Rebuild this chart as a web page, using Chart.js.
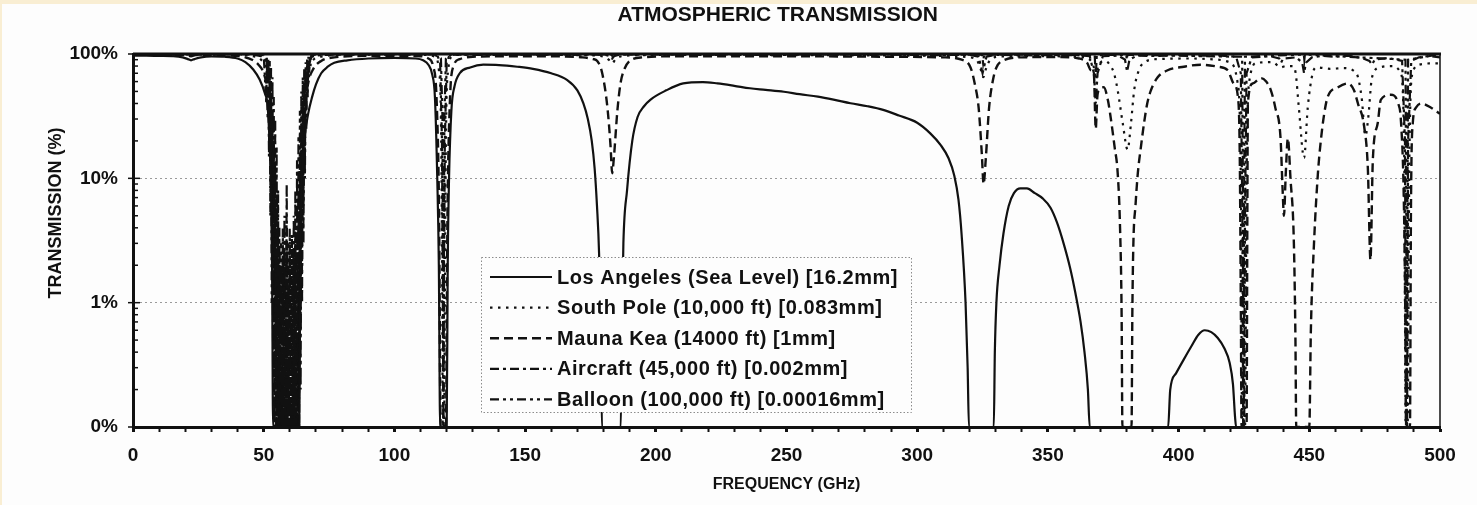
<!DOCTYPE html>
<html>
<head>
<meta charset="utf-8">
<title>Atmospheric Transmission</title>
<script src="https://cdn.jsdelivr.net/npm/chart.js@4.4.0/dist/chart.umd.min.js"></script>
<style>
  html, body { margin: 0; padding: 0; background: #f9eed3; }
  #wrap { position: absolute; left: 2px; top: 4px; width: 1475px; height: 501px; background: #fdfdfd; }
</style>
</head>
<body>
<div id="wrap"><canvas id="chart"></canvas></div>
<script>
// transmission curves, [frequency GHz, transmission %]; 0.1 is the floor of the plot
var losAngeles = [[0,97],[5,97],[10,96.5],[15,96],[19,94],[21,91],[22.2,89],[23.5,91],[26,94],[30,95.5],[35,95],[40,92],[43,86],[46,75],[48.5,62],[50.5,48],[51.5,38],[52.3,18],[52.8,8],[53.2,2],[53.6,0.1],[63.6,0.1],[64,2],[64.6,10],[65.5,20],[67,33],[68.5,45],[70,57],[72,70],[74.5,79],[77,85],[82,89],[90,92],[100,93],[108,92],[111,89],[113,82],[114.5,68],[115.5,45],[116.4,10],[117,2],[117.5,0.1],[120,0.1],[120.4,2],[120.9,10],[121.8,35],[123,55],[125,70],[129,78],[134,82],[140,81.5],[147,79],[153,76],[160,70],[166,62],[170,51],[172.3,40],[174,30],[175.5,20],[176.6,12],[177.5,6],[178.3,2.5],[179,0.5],[179.4,0.1],[186.6,0.1],[187,0.6],[187.6,3],[189,8],[191,20],[193,31],[195.5,38],[198,43],[204,51],[210.5,58],[218,59.5],[223.6,58],[230,55.5],[236,53],[242,51.5],[249,49.7],[255,47.5],[262,45.4],[268,43],[274.5,40.2],[281,38],[287,35.5],[293,32],[300,28],[305,23],[309,18.5],[312,14.5],[314.2,10.5],[315.8,6.7],[317,3.5],[318.5,1],[319.3,0.3],[319.8,0.1],[329.3,0.1],[329.7,0.4],[330.3,1],[331.5,2],[333,3.6],[335,6],[337,7.6],[339.5,8.3],[342,8.3],[345,7.6],[348,6.9],[351,5.8],[353.5,4.4],[356,3],[358.5,1.9],[360.5,1.2],[362.5,0.7],[364,0.4],[365.3,0.2],[366,0.1],[396,0.1],[396.8,0.2],[399,0.27],[402,0.35],[405,0.45],[407.5,0.55],[410,0.6],[412.5,0.58],[415,0.52],[417.5,0.43],[419.5,0.33],[420.8,0.22],[421.6,0.12],[422,0.1],[500,0.1]];

var southPole = [[0,99.5],[10,99.5],[20,99.3],[22.2,98.5],[24,99.3],[35,99.2],[42,98.5],[46,96],[49,90],[51,75],[52.5,45],[53.6,12],[54.4,2],[55,0.1],[62.8,0.1],[63.3,2],[64.2,15],[65.3,45],[66.8,75],[69,90],[73,96],[80,98.5],[100,99],[112,98.5],[115.5,95],[117,75],[117.9,20],[118.3,1],[118.5,0.1],[119,0.1],[119.3,1],[119.7,20],[120.6,75],[122,95],[125,98.5],[140,98.7],[160,98.3],[175,97.5],[180,95],[182,90],[183.3,84],[184.5,90],[187,96],[195,98],[220,98.5],[250,98],[280,97.5],[310,96.5],[320,94],[323,88],[324.6,72],[325.3,65],[326.2,75],[328,90],[332,95.5],[350,96],[362,95],[366,90],[367.8,75],[368.4,62],[369.2,80],[372,88],[374,80],[375.3,70],[376.7,51],[378.6,28],[380.5,17],[381.8,28],[383,51],[384.8,74],[387,86],[392,91],[405,92],[415,90],[420,85],[422.5,60],[423.8,10],[424.3,0.1],[425.4,0.1],[426,10],[427.3,65],[430,85],[436,86],[439,78],[441,80],[443.5,80],[444.8,70],[446,37],[448,14.6],[449.4,37],[451.3,70],[453,78],[458,76],[463,77],[468,70],[470,45],[471.5,22],[472.5,30],[474,65],[477,78],[482,80],[485,70],[486.3,15],[486.9,0.1],[487.6,0.1],[488.3,15],[489.5,70],[492,82],[496,84],[500,84]];

var maunaKea = [[0,98.5],[15,98.5],[20,98],[22.2,96],[24,98],[35,97.5],[40,96.5],[43,94],[45.5,90],[48,82],[50,70],[51.5,50],[52.4,28],[53.1,10],[53.7,2],[54.2,0.1],[63.3,0.1],[63.8,2],[64.5,12],[65.5,33],[67,58],[69,76],[72,88],[77,94],[90,96.5],[110,96],[113,92],[114.8,80],[116.2,40],[117.1,5],[117.7,0.1],[119.7,0.1],[120.3,5],[121.2,40],[122.6,80],[125,91],[130,95],[150,96],[165,95.5],[172,94],[176,91],[177.6,88],[179.5,70],[181.5,37],[182.7,18],[183.3,11],[184,15],[185.3,35],[186.5,58],[187.6,72],[190,88],[195,94],[210,96],[250,96],[290,95],[310,94],[317,90],[320.4,78],[322,58],[323.5,37],[324.7,16],[325.4,9],[326.2,14],[327.5,37],[329,62],[330.3,78],[333,89],[340,94],[355,94.5],[362,92],[365,85],[366.4,74],[367.6,68],[368.3,25],[368.9,45],[369.5,51],[371.4,54],[373,42],[374,31],[375.5,18],[376.7,11],[377.6,4],[378.2,0.8],[378.5,0.1],[382,0.1],[382.3,0.8],[382.7,3],[383.5,6],[384.4,11],[385.6,18],[386.8,28],[388,40],[389.4,51],[392,65],[395.8,74],[402,79],[408.5,82],[415,79],[418.8,74],[421,58],[422.7,45],[423.4,15],[423.8,1],[424.1,0.1],[426,0.1],[426.3,5],[426.5,40],[428.4,58],[431.5,64],[433.5,60],[435.3,51],[437,37],[439,21],[439.8,8],[440.3,5],[441,11],[441.8,21],[442.8,10],[444.1,3],[444.7,0.5],[445,0.1],[450,0.1],[450.6,0.6],[451.8,3],[453.3,11],[454.4,20],[455.7,33],[457,45],[461,54],[464.8,58],[467.1,51],[468.6,40],[471,26],[472.4,12],[473.4,2.2],[474.3,14],[476.2,28],[477.4,43],[481.2,47],[484,40],[485.1,28],[486.2,6],[486.8,0.5],[487,0.1],[488.5,0.1],[488.9,6],[489.6,28],[490.8,37],[492.7,40],[496.6,37],[500,33]];

var aircraft = [[0,99.8],[10,98.8],[22,99.4],[30,98.6],[40,99.7],[45,99],[47,98],[49,96],[50.5,92],[51.2,85],[51.5,60],[51.8,85],[52.3,70],[52.55,25],[52.8,60],[53.1,8],[53.35,35],[53.6,2],[53.85,20],[54.15,0.5],[54.4,12],[54.7,0.2],[54.95,7],[55.2,0.1],[55.5,4],[55.8,0.1],[56.05,2.5],[56.3,0.1],[56.65,2],[56.97,0.1],[57.3,2.2],[57.6,0.1],[57.95,2.5],[58.35,0.1],[58.8,3],[59.2,0.1],[59.4,1.5],[59.6,0.1],[59.95,2.5],[60.35,0.1],[60.8,2.2],[61.15,0.1],[61.5,2.5],[61.8,0.1],[62.1,3],[62.45,0.1],[62.75,4],[63,0.1],[63.3,8],[63.57,0.2],[63.85,15],[64.13,0.6],[64.4,25],[64.68,2],[64.95,40],[65.22,6],[65.5,55],[65.77,15],[66.05,70],[66.3,35],[66.6,80],[66.84,55],[67.1,88],[67.4,72],[67.7,92],[68.5,95],[70,97.5],[75,98.5],[90,99.5],[112,99.5],[115,99],[116.5,97],[117.5,85],[118.2,20],[118.5,2],[118.75,0.1],[119,2],[119.3,20],[120,85],[121,97],[123,99],[135,98.2],[150,99.5],[165,98.4],[180,99],[182.5,96],[183.3,92],[184,96],[186,99],[200,99.6],[215,98.3],[230,99.2],[245,98.1],[260,99.5],[275,98.2],[290,99],[305,97.8],[320,98.5],[323.5,95],[325,70],[326.5,95],[330,98.5],[345,97.6],[360,98],[366,96],[367.6,70],[368.3,40],[369,70],[371,96],[377,97],[379.5,90],[380.3,72],[381.2,90],[384,97],[392,96.5],[400,98],[407,96.8],[415,97.5],[422,95],[423.8,70],[424.4,5],[424.7,0.1],[425.1,0.1],[425.4,5],[426,70],[428,94],[435,96],[438.5,92],[439.2,85],[440,92],[445,94],[447.3,85],[448,70],[448.7,85],[451,94],[455,96.5],[460,95],[465,96.8],[470,93],[473,88],[474,82],[475,90],[480,93],[485.5,88],[486.6,20],[487,0.1],[487.4,0.1],[487.8,20],[489,88],[492,94],[496,96.5],[500,94]];

var balloon = [[0,100],[22.2,99.8],[45,99.5],[48,99],[50,98],[50.99,40],[51.2,95],[51.5,30],[51.75,93],[52.02,15],[52.3,88],[52.54,5],[52.8,80],[53.07,1],[53.35,65],[53.6,0.3],[53.85,45],[54.13,0.1],[54.4,30],[54.67,0.1],[54.95,18],[55.22,0.1],[55.5,8],[55.78,0.1],[56,4],[56.3,0.1],[56.65,3],[56.97,0.1],[57.3,4],[57.61,0.1],[57.95,5],[58.38,0.1],[58.8,9],[59.16,0.1],[59.38,3],[59.59,0.1],[59.95,4],[60.37,0.1],[60.8,3.5],[61.15,0.1],[61.5,5],[61.8,0.1],[62.1,8],[62.45,0.1],[62.75,14],[62.99,0.1],[63.3,22],[63.57,0.1],[63.85,35],[64.13,0.2],[64.4,50],[64.68,1],[64.95,65],[65.22,3],[65.5,78],[65.77,10],[66.05,86],[66.3,25],[66.6,92],[66.84,45],[67.1,95],[67.37,65],[67.65,97],[67.9,80],[68.2,98],[70,99],[80,99.7],[115,99.8],[117.8,92],[118.4,30],[118.7,0.1],[118.8,0.1],[119.1,30],[119.7,92],[122,99.8],[182.8,99.3],[183.3,97],[183.8,99.3],[324.8,99],[325.2,85],[325.6,99],[367.9,98],[368.3,65],[368.7,98],[380,98.5],[380.2,90],[380.4,98.5],[424.3,95],[424.6,10],[424.75,0.1],[424.95,0.1],[425.1,10],[425.4,95],[447.9,99],[448.1,90],[448.3,99],[486.8,90],[487.1,5],[487.25,0.1],[487.35,0.1],[487.5,5],[487.8,90],[500,99.5]];

var seriesNames = [
  'Los Angeles (Sea Level) [16.2mm]',
  'South Pole (10,000 ft) [0.083mm]',
  'Mauna Kea (14000 ft) [1mm]',
  'Aircraft (45,000 ft) [0.002mm]',
  'Balloon (100,000 ft) [0.00016mm]'
];
var yTickValues = [0.1, 1, 10, 100];
var yTickLabels = ['0%', '1%', '10%', '100%'];
var xLabelStep = 50;

function toPoints(list) {
  return list.map(function (p) { return { x: p[0], y: p[1] }; });
}

// log ticks: labelled decades plus the unlabelled 2..9 marks in between
function buildYTicks() {
  var out = [];
  for (var d = 0; d < yTickValues.length - 1; d++) {
    for (var k = 1; k < 10; k++) {
      var v = parseFloat((yTickValues[d] * k).toPrecision(3));
      out.push({ value: v, major: k === 1 });
    }
  }
  out.push({ value: yTickValues[yTickValues.length - 1], major: true });
  return out;
}

function yLabel(v) {
  for (var i = 0; i < yTickValues.length; i++) {
    if (Math.abs(v - yTickValues[i]) < 1e-9) return yTickLabels[i];
  }
  return '';
}

// top/right frame lines and the small inward ticks on the left axis
var plotFrame = {
  id: 'plotFrame',
  afterDatasetsDraw: function (chart) {
    var ctx = chart.ctx, a = chart.chartArea, ys = chart.scales.y;
    ctx.save();
    ctx.strokeStyle = '#111';
    ctx.lineWidth = 3;
    ctx.beginPath();
    ctx.moveTo(a.left, a.top);
    ctx.lineTo(a.right + 1, a.top);
    ctx.stroke();
    ctx.lineWidth = 1.5;
    ctx.beginPath();
    ctx.moveTo(a.right, a.top);
    ctx.lineTo(a.right, a.bottom);
    ctx.stroke();
    ys.ticks.forEach(function (t) {
      var py = ys.getPixelForValue(t.value);
      ctx.beginPath();
      ctx.moveTo(t.major ? a.left - 5 : a.left, py);
      ctx.lineTo(a.left + (t.major ? 7 : 5), py);
      ctx.stroke();
    });
    ctx.restore();
  }
};

// boxed legend sitting inside the plot
var boxLegend = {
  id: 'boxLegend',
  afterDatasetsDraw: function (chart, args, opts) {
    var ctx = chart.ctx, a = chart.chartArea;
    var x0 = Math.round(a.left + opts.left), y0 = Math.round(a.top + opts.top);
    ctx.save();
    ctx.fillStyle = '#fdfdfd';
    ctx.fillRect(x0, y0, opts.width, opts.height);
    ctx.setLineDash([1.5, 2]);
    ctx.strokeStyle = '#8c8c8c';
    ctx.lineWidth = 1;
    ctx.strokeRect(x0 + 0.5, y0 + 0.5, opts.width, opts.height);
    ctx.font = opts.font;
    if ('letterSpacing' in ctx) ctx.letterSpacing = opts.letterSpacing;
    ctx.textBaseline = 'middle';
    chart.data.datasets.forEach(function (ds, i) {
      var y = y0 + opts.firstRow + i * opts.rowGap;
      ctx.setLineDash(ds.borderDash || []);
      ctx.lineWidth = ds.borderWidth;
      ctx.strokeStyle = ds.borderColor;
      ctx.beginPath();
      ctx.moveTo(x0 + opts.lineStart, y);
      ctx.lineTo(x0 + opts.lineEnd, y);
      ctx.stroke();
      ctx.fillStyle = '#111';
      ctx.fillText(ds.label, x0 + opts.textStart, y + 1);
    });
    ctx.restore();
  }
};

Chart.defaults.font.family = "'Liberation Sans', Arial, sans-serif";
Chart.defaults.color = '#111';

// smooth: broad curves drawn with monotone interpolation, line combs left straight
var styles = [
  { data: losAngeles, dash: [], width: 2.2, smooth: true },
  { data: southPole, dash: [2.5, 5.5], width: 2.2, smooth: true },
  { data: maunaKea, dash: [9, 5], width: 2.4, smooth: true },
  { data: aircraft, dash: [9, 4, 3, 4], width: 2.2, smooth: false },
  { data: balloon, dash: [9, 4, 3, 4, 3, 4], width: 2.2, smooth: false }
];

new Chart(document.getElementById('chart'), {
  type: 'line',
  data: {
    datasets: styles.map(function (s, i) {
      return {
        label: seriesNames[i],
        data: toPoints(s.data),
        borderColor: '#111',
        borderWidth: s.width,
        borderDash: s.dash,
        pointRadius: 0,
        cubicInterpolationMode: s.smooth ? 'monotone' : 'default',
        tension: 0,
        fill: false
      };
    })
  },
  options: {
    responsive: true,
    maintainAspectRatio: false,
    animation: false,
    events: [],
    layout: { padding: { left: 0, right: 37, top: 0, bottom: 0 } },
    plugins: {
      legend: { display: false },
      tooltip: { enabled: false },
      title: {
        display: true,
        fullSize: false,
        text: 'ATMOSPHERIC TRANSMISSION\u00a0\u00a0\u00a0',
        font: { size: 21, weight: 'bold', lineHeight: 1 },
        color: '#111',
        padding: { top: 1, bottom: 28 }
      },
      boxLegend: {
        left: 348, top: 203, width: 430, height: 155,
        firstRow: 20, rowGap: 30.6,
        lineStart: 9, lineEnd: 71, textStart: 76,
        font: "bold 20px 'Liberation Sans', Arial, sans-serif",
        letterSpacing: '0.55px'
      }
    },
    scales: {
      x: {
        type: 'linear',
        min: 0,
        max: 500,
        ticks: {
          stepSize: 10,
          autoSkip: false,
          maxRotation: 0,
          padding: 12,
          font: { size: 19, weight: 'bold' },
          color: '#111',
          callback: function (v) { return v % xLabelStep === 0 ? String(v) : ''; }
        },
        grid: {
          drawOnChartArea: false,
          drawTicks: true,
          tickLength: 5,
          tickColor: '#111',
          tickWidth: function (c) { return c.tick && c.tick.value % xLabelStep === 0 ? 3 : 2; }
        },
        border: { color: '#111', width: 3 },
        title: {
          display: true,
          text: 'FREQUENCY (GHz)',
          font: { size: 16, weight: 'bold' },
          color: '#111',
          padding: { top: 0, bottom: 11 }
        },
        afterFit: function (scale) { scale.height = 78; }
      },
      y: {
        type: 'logarithmic',
        min: 0.1,
        max: 100,
        afterBuildTicks: function (scale) { scale.ticks = buildYTicks(); },
        ticks: {
          autoSkip: false,
          padding: 15,
          font: { size: 19, weight: 'bold' },
          color: '#111',
          callback: function (v) { return yLabel(v); }
        },
        grid: {
          drawTicks: false,
          lineWidth: 1,
          color: function (c) {
            var v = c.tick ? c.tick.value : null;
            return (v === 1 || v === 10) ? '#9a9a9a' : 'rgba(0,0,0,0)';
          }
        },
        border: { color: '#111', width: 3, dash: [2, 3] },
        title: {
          display: true,
          text: '\u00a0\u00a0\u00a0\u00a0\u00a0\u00a0\u00a0\u00a0\u00a0\u00a0\u00a0TRANSMISSION (%)',
          font: { size: 18, weight: 'bold' },
          color: '#111',
          padding: { top: 43, bottom: 0 }
        },
        afterFit: function (scale) { scale.width = 131; }
      }
    }
  },
  plugins: [plotFrame, boxLegend]
});
</script>
</body>
</html>
